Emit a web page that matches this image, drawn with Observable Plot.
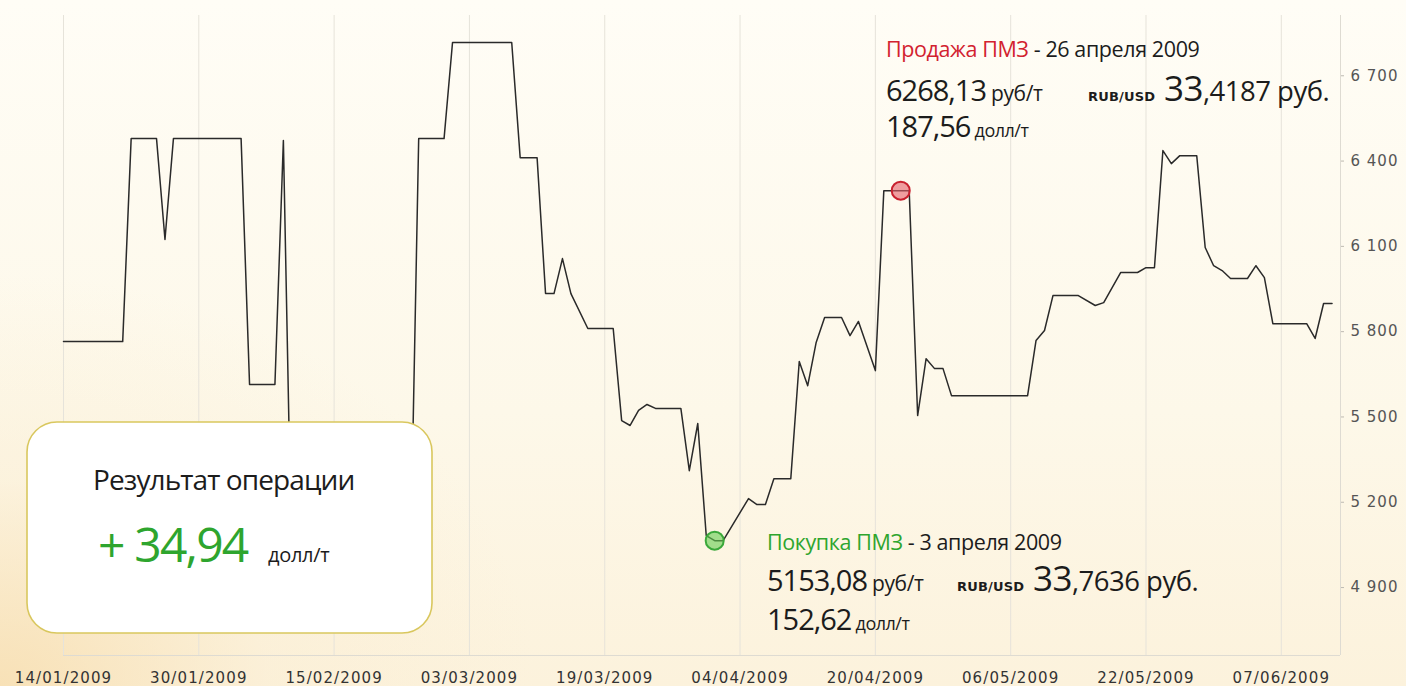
<!DOCTYPE html>
<html>
<head>
<meta charset="utf-8">
<script src="https://cdn.jsdelivr.net/npm/d3@7"></script>
<script src="https://cdn.jsdelivr.net/npm/@observablehq/plot@0.6"></script>
<style>
  html, body { margin: 0; padding: 0; }
  body {
    width: 1406px; height: 686px; overflow: hidden;
    background:
      radial-gradient(ellipse 38% 60% at 0% 100%, rgba(247,222,176,0.85) 0%, rgba(250,236,208,0.4) 50%, rgba(252,244,226,0) 100%),
      linear-gradient(180deg, #fffdf6 0%, #fdf8e9 60%, #fcf2dc 100%);
  }
  #wrap { position: relative; width: 1406px; height: 686px; }
  #wrap svg { position: absolute; left: 0; top: 0; }
  [aria-label="x-axis tick label"] text { letter-spacing: 1.1px; }
  [aria-label="y-axis tick label"] text { letter-spacing: 1px; }
  #overlay text { font-family: "Open Sans", sans-serif; }
</style>
</head>
<body>
<div id="wrap"></div>
<script>
// ---- data ----
const dates = [
  "2009-01-14","2009-01-21","2009-01-22","2009-01-25","2009-01-26","2009-01-27","2009-02-04","2009-02-05",
  "2009-02-08","2009-02-09","2009-02-10","2009-02-13","2009-02-17","2009-02-20","2009-02-24","2009-02-25",
  "2009-02-28","2009-03-01","2009-03-08","2009-03-09","2009-03-11","2009-03-12","2009-03-13","2009-03-14",
  "2009-03-15","2009-03-17","2009-03-20","2009-03-21","2009-03-22","2009-03-23","2009-03-24","2009-03-25",
  "2009-03-28","2009-03-29","2009-03-30","2009-03-31","2009-04-01","2009-04-02","2009-04-05","2009-04-06",
  "2009-04-07","2009-04-08","2009-04-10","2009-04-11","2009-04-12","2009-04-13","2009-04-14","2009-04-16",
  "2009-04-17","2009-04-18","2009-04-20","2009-04-21","2009-04-24","2009-04-25","2009-04-26","2009-04-27",
  "2009-04-28","2009-04-29","2009-05-08","2009-05-09","2009-05-10","2009-05-11","2009-05-14","2009-05-16",
  "2009-05-17","2009-05-19","2009-05-21","2009-05-22","2009-05-23","2009-05-24","2009-05-25","2009-05-26",
  "2009-05-28","2009-05-29","2009-05-30","2009-05-31","2009-06-01","2009-06-03","2009-06-04","2009-06-05",
  "2009-06-06","2009-06-10","2009-06-11","2009-06-12","2009-06-13"
];
const prices = [
  5765,5765,6479,6479,6124,6479,6479,5614,
  5614,6472,4950,5050,4900,5000,4950,6479,
  6479,6817,6817,6412,6412,5934,5934,6057,
  5934,5811,5811,5487,5470,5523,5544,5530,
  5530,5311,5477,5083,5065,5065,5213,5192,
  5192,5283,5283,5695,5610,5762,5850,5850,
  5786,5836,5663,6296,6296,5505,5705,5670,
  5670,5575,5575,5769,5804,5927,5927,5892,
  5902,6008,6008,6025,6025,6437,6391,6419,
  6419,6096,6032,6015,5987,5987,6032,5990,
  5828,5828,5776,5899,5899
];
const markerDates = ["2009-04-01", "2009-04-23"];
const markerPrices = [5065, 6296];
const markerKinds = ["buy", "sell"];
const xTickLabels = ["2009-01-14","2009-01-30","2009-02-15","2009-03-03","2009-03-19","2009-04-04","2009-04-20","2009-05-06","2009-05-22","2009-06-07"];
const yTickValues = [4900, 5200, 5500, 5800, 6100, 6400, 6700];
const xDomain = ["2009-01-14", "2009-06-14"];
const yDomain = [4661, 6912];

// ---- build ----
const series = dates.map((d, i) => ({date: new Date(d), price: prices[i]}));
const markers = markerDates.map((d, i) => ({date: new Date(d), price: markerPrices[i], kind: markerKinds[i]}));
const xTicks = xTickLabels.map(d => new Date(d));
const xd = xDomain.map(d => new Date(d));
const fmtY = v => d3.format(",")(v).replace(/,/g, " ");

const chart = Plot.plot({
  width: 1406, height: 686,
  marginLeft: 63, marginRight: 66, marginTop: 15, marginBottom: 31,
  x: {type: "utc", domain: xd, label: null},
  y: {domain: yDomain, label: null},
  style: {background: "transparent", fontFamily: "DejaVu Sans", fontSize: "15px"},
  marks: [
    Plot.gridX(xTicks, {stroke: "#e6e3da", strokeOpacity: 1}),
    Plot.ruleY([yDomain[0]], {stroke: "#dedbd2"}),
    Plot.ruleX([xd[1]], {stroke: "#dedbd2"}),
    Plot.axisX(xTicks, {tickSize: 0, tickPadding: 17, tickFormat: d3.utcFormat("%d/%m/%Y"), fill: "#333", label: null}),
    Plot.axisY(yTickValues, {anchor: "right", tickSize: 3, tickPadding: 7, stroke: "#bdbab2", fill: "#555", tickFormat: fmtY, label: null}),
    Plot.line(series, {x: "date", y: "price", stroke: "#2a2a2a", strokeWidth: 1.5}),
    Plot.dot(markers, {
      x: "date", y: "price", r: 9, strokeWidth: 2,
      fill: d => d.kind === "buy" ? "rgba(100,205,80,0.6)" : "rgba(228,95,105,0.6)",
      stroke: d => d.kind === "buy" ? "#3aa83a" : "#c8202e"
    })
  ]
});
document.getElementById("wrap").appendChild(chart);

// ---- overlay annotations ----
const ov = d3.select("#wrap").append("svg").attr("id", "overlay")
  .attr("width", 1406).attr("height", 686).style("pointer-events", "none");

function line(x, y, parts) {
  const t = ov.append("text").attr("x", x).attr("y", y).attr("fill", "#1c1c1c");
  parts.forEach(p => {
    const s = t.append("tspan").text(p.t).attr("font-size", p.s);
    if (p.c) s.attr("fill", p.c);
    if (p.x !== undefined) s.attr("x", p.x);
    if (p.f) s.style("font-family", p.f);
    if (p.w) s.attr("font-weight", p.w);
    s.attr("letter-spacing", p.ls !== undefined ? p.ls : -0.6);
  });
}
const RED = "#d2222f", GREEN = "#2ea52e";
// sell
line(886, 57, [{t: "Продажа ПМЗ", s: 21.5, c: RED, ls: -0.4}, {t: " - 26 апреля 2009", s: 21.5, ls: -0.4}]);
line(886, 101, [{t: "6268,13", s: 29, ls: -1}, {t: " руб/т", s: 21, ls: -0.4},
  {t: "RUB/USD", s: 13, x: 1088, f: "DejaVu Sans", w: "bold", ls: 0.2},
  {t: " 33", s: 35, ls: -0.5}, {t: ",4187 руб.", s: 27.5, ls: -0.5}]);
line(886, 137, [{t: "187,56", s: 29, ls: -1}, {t: " долл/т", s: 18, ls: -0.5}]);
// buy
line(767, 550, [{t: "Покупка ПМЗ", s: 21.5, c: GREEN, ls: -0.4}, {t: " - 3 апреля 2009", s: 21.5, ls: -0.4}]);
line(767, 591, [{t: "5153,08", s: 29, ls: -1}, {t: " руб/т", s: 21, ls: -0.4},
  {t: "RUB/USD", s: 13, x: 957, f: "DejaVu Sans", w: "bold", ls: 0.2},
  {t: " 33", s: 35, ls: -0.5}, {t: ",7636 руб.", s: 27.5, ls: -0.5}]);
line(767, 630, [{t: "152,62", s: 29, ls: -1}, {t: " долл/т", s: 18, ls: -0.5}]);

// result box
ov.append("rect").attr("x", 27).attr("y", 422).attr("width", 405).attr("height", 211)
  .attr("rx", 30).attr("ry", 30).attr("fill", "#ffffff")
  .attr("stroke", "#d9c75e").attr("stroke-width", 1.6);
line(93, 490, [{t: "Результат операции", s: 28, ls: -0.9}]);
line(98, 562, [{t: "+ 34,94", s: 48, c: GREEN, ls: -1.8}, {t: "долл/т", s: 20, x: 268, ls: -0.3}]);
</script>
</body>
</html>
